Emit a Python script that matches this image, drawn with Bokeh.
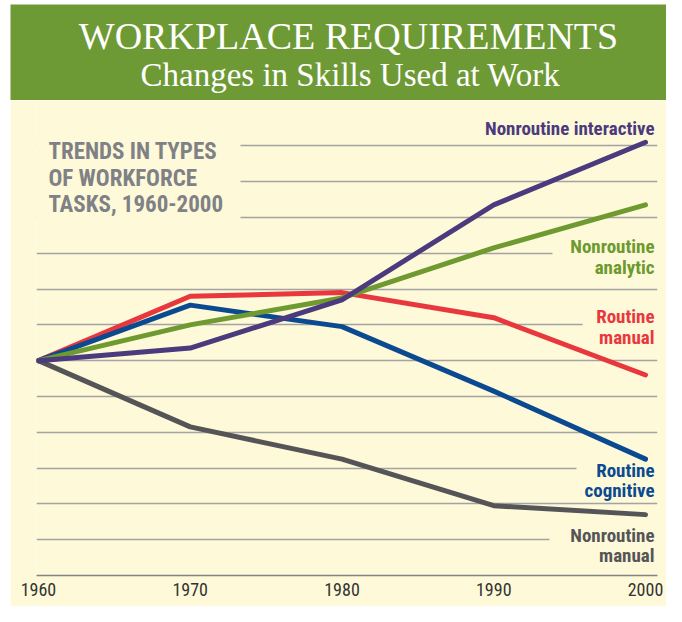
from bokeh.plotting import figure
from bokeh.layouts import column, row
from bokeh.models import Range1d, FixedTicker, Label, BoxAnnotation, Spacer
from bokeh.embed import file_html
from bokeh.resources import INLINE

# ---- data ----
years = [1960, 1970, 1980, 1990, 2000]
tick_labels = ["1960", "1970", "1980", "1990", "2000"]
grid_values = [40, 42, 44, 46, 48, 50, 52, 54, 56, 58, 60, 62]
nonroutine_interactive = [50, 50.7, 53.4, 58.7, 62.2]
nonroutine_analytic = [50, 52.0, 53.5, 56.3, 58.7]
routine_manual = [50, 53.6, 53.8, 52.4, 49.2]
routine_cognitive = [50, 53.1, 51.9, 48.3, 44.5]
nonroutine_manual = [50, 46.3, 44.5, 41.9, 41.4]

GREEN_HDR = "#6e9a36"
CREAM = "#fef9d8"
COND = "Roboto Condensed, Liberation Sans Narrow, DejaVu Sans Condensed, sans-serif"
SERIF = "Liberation Serif, DejaVu Serif, serif"

# ---- header (data units = page pixels) ----
hdr = figure(width=656, height=100, x_range=Range1d(10, 666), y_range=Range1d(100, 4),
             title=None, x_axis_location=None, y_axis_location=None,
             min_border_left=0, min_border_right=0, min_border_bottom=0, min_border_top=4,
             background_fill_color=GREEN_HDR, border_fill_color="white",
             outline_line_color=None, output_backend="svg", toolbar_location=None)
hdr.grid.visible = False
hdr.add_layout(Label(x=348, y=35, text="WORKPLACE REQUIREMENTS", text_align="center",
                     text_baseline="middle", text_font=SERIF, text_font_size="38px",
                     text_color="white"))
hdr.add_layout(Label(x=350, y=74, text="Changes in Skills Used at Work", text_align="center",
                     text_baseline="middle", text_font=SERIF, text_font_size="33px",
                     text_color="white"))

# ---- chart ----
p = figure(frame_width=621, frame_height=475, title=None,
           x_range=Range1d(1959.87, 2000.79), y_range=Range1d(38, 64.53),
           min_border_left=26, min_border_right=9, min_border_top=0, min_border_bottom=31,
           background_fill_color=CREAM, border_fill_color=CREAM, outline_line_color=None,
           output_backend="svg", toolbar_location=None)
p.xgrid.visible = False
p.yaxis.visible = False
p.ygrid.ticker = FixedTicker(ticks=grid_values)
p.ygrid.grid_line_color = "#a3a3a3"
p.ygrid.grid_line_width = 1.6

p.xaxis.ticker = FixedTicker(ticks=years)
p.xaxis.major_label_overrides = {y: t for y, t in zip(years, tick_labels)}
p.xaxis.axis_line_color = "#858585"
p.xaxis.axis_line_width = 1.6
p.xaxis.major_tick_line_color = None
p.xaxis.minor_tick_line_color = None
p.xaxis.major_label_standoff = 1
p.xaxis.major_label_text_font = COND
p.xaxis.major_label_text_font_size = "18px"
p.xaxis.major_label_text_color = "#333333"


def X(px):
    return 1960 + (px - 38) / 15.175


def Y(py):
    return 38 + (575 - py) / 17.9


# masks that interrupt the grid lines behind the text blocks
for l, r, t, b in [(30, 240, 138, 222), (552, 670, 245, 259), (582, 670, 318, 330),
                   (576, 670, 460, 472), (549, 670, 532, 544)]:
    p.add_layout(BoxAnnotation(left=X(l), right=X(r), top=Y(t), bottom=Y(b),
                               fill_color=CREAM, fill_alpha=1, line_color=None,
                               level="underlay"))


def add_text(text, xpx, mid_px, color, size, align):
    p.add_layout(Label(x=X(xpx), y=Y(mid_px), text=text, text_align=align,
                       text_baseline="middle", text_font=COND, text_font_style="bold",
                       text_font_size=size, text_color=color))


for txt, mid in [("TRENDS IN TYPES", 151), ("OF WORKFORCE", 178), ("TASKS, 1960-2000", 204)]:
    add_text(txt, 48, mid, "#7f8186", "23px", "left")

RX = 654
add_text("Nonroutine interactive", RX, 128, "#4b3a7d", "19px", "right")
add_text("Nonroutine", RX, 246, "#6c9a2f", "19px", "right")
add_text("analytic", RX, 267, "#6c9a2f", "19px", "right")
add_text("Routine", RX, 316, "#e8383d", "19px", "right")
add_text("manual", RX, 337, "#e8383d", "19px", "right")
add_text("Routine", RX, 470, "#0b4a91", "19px", "right")
add_text("cognitive", RX, 490, "#0b4a91", "19px", "right")
add_text("Nonroutine", RX, 535, "#555558", "19px", "right")
add_text("manual", RX, 555, "#555558", "19px", "right")

series = [
    (nonroutine_manual, "#555558"),
    (routine_manual, "#e8383d"),
    (routine_cognitive, "#0b4a91"),
    (nonroutine_analytic, "#6e9a30"),
    (nonroutine_interactive, "#4b3a7d"),
]
for vals, col in series:
    p.line(years, vals, line_width=5, line_color=col, line_cap="round", line_join="round")

layout = column(row(Spacer(width=10, height=100), hdr, spacing=0),
                row(Spacer(width=10, height=506), p, spacing=0), spacing=0)
open("out.html", "w").write(file_html(layout, INLINE))
